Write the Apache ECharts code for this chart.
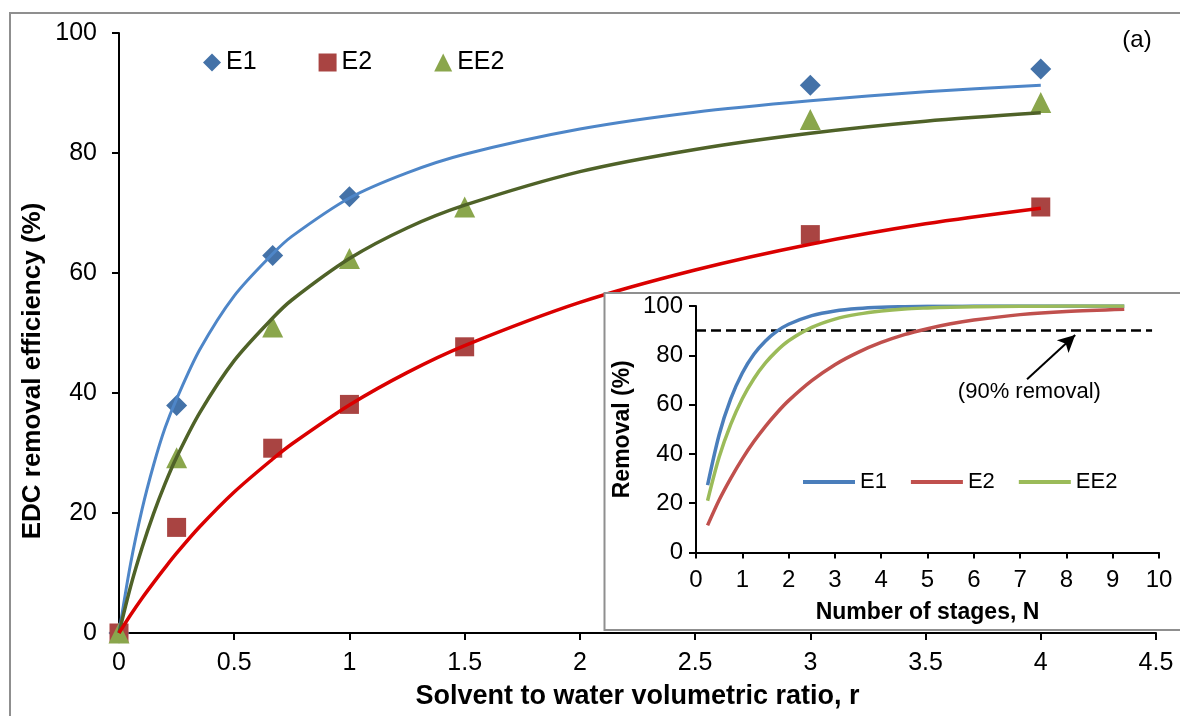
<!DOCTYPE html>
<html>
<head>
<meta charset="utf-8">
<script src="https://cdn.jsdelivr.net/npm/echarts@6/dist/echarts.min.js"></script>
<style>
html, body { margin: 0; padding: 0; background: #fff; }
#chart { width: 1180px; height: 716px; }
</style>
</head>
<body>
<div id="chart"></div>
<script>
// measured points (solvent to water ratio r -> EDC removal %)
var rE1 = [0, 0.25, 0.667, 1, 3, 4];
var e1Data = [0, 37.9, 62.9, 72.7, 91.3, 94.0];
var rE2 = [0, 0.25, 0.667, 1, 1.5, 3, 4];
var e2Data = [0, 17.6, 30.8, 38.1, 47.7, 66.4, 71.0];
var rEE2 = [0, 0.25, 0.667, 1, 1.5, 3, 4];
var ee2Data = [0, 29.2, 51.0, 62.4, 71.0, 85.6, 88.4];

// fitted curves
var rFit = [0, 0.05, 0.1, 0.15, 0.2, 0.25, 0.35, 0.5, 0.667, 0.75, 1, 1.25, 1.5, 2, 2.5, 3, 3.5, 4];
var e1Fit = [0, 11.5, 20.6, 28.0, 34.2, 39.0, 47.2, 56.2, 63.2, 66.1, 72.5, 76.7, 79.8, 84.0, 86.8, 88.7, 90.2, 91.3];
var e2Fit = [0, 3.0, 5.8, 8.4, 10.9, 13.3, 17.7, 23.5, 29.0, 31.5, 38.0, 43.4, 47.9, 55.1, 60.5, 64.8, 68.2, 70.8];
var ee2Fit = [0, 7.7, 14.2, 19.9, 24.9, 29.3, 36.7, 45.4, 52.5, 55.5, 62.4, 67.5, 71.3, 76.9, 80.6, 83.3, 85.3, 86.7];

// inset: removal vs number of stages N
var nStages = [0.25, 0.5, 0.75, 1, 1.25, 1.5, 1.75, 2, 2.5, 3, 3.5, 4, 4.5, 5, 5.5, 6, 7, 8, 9.25];
var e1Stage = [27.3, 47.8, 62.3, 72.8, 80.4, 85.8, 89.8, 92.6, 96.1, 98.0, 99.0, 99.5, 99.7, 99.85, 99.9, 99.95, 99.98, 100, 100];
var e2Stage = [11.0, 21.3, 30.1, 38.0, 45.0, 51.2, 56.7, 61.6, 69.7, 76.2, 81.2, 85.2, 88.4, 90.8, 92.8, 94.3, 96.5, 97.8, 98.7];
var ee2Stage = [21.0, 38.7, 52.0, 62.4, 70.5, 76.9, 81.9, 85.9, 91.3, 94.7, 96.7, 98.0, 98.8, 99.2, 99.5, 99.7, 99.9, 99.95, 100];
var targetLine = [[0, 90], [9.85, 90]];
var arrowLine = [[7.15, 70.3], [8.19, 88.2]];
var noteAt = [7.2, 65.2];

var FONT = '"Liberation Sans", Arial, sans-serif';

function pairs(xs, ys) {
    return xs.map(function (x, i) { return [x, ys[i]]; });
}

function axisCommon(min, max, interval, fontSize, margin) {
    return {
        type: 'value',
        min: min,
        max: max,
        interval: interval,
        axisLine: { show: true, onZero: false, lineStyle: { color: '#000', width: 2 } },
        axisTick: { show: true, inside: false, length: 7, lineStyle: { color: '#000', width: 2 } },
        axisLabel: { color: '#000', fontSize: fontSize, fontFamily: FONT, margin: margin },
        splitLine: { show: false }
    };
}

var chart = echarts.init(document.getElementById('chart'));

var xMain = axisCommon(0, 4.5, 0.5, 25, 18);
xMain.gridIndex = 0;
xMain.name = 'Solvent to water volumetric ratio, r';
xMain.nameLocation = 'middle';
xMain.nameGap = 50;
xMain.nameTextStyle = { color: '#000', fontSize: 27, fontWeight: 'bold', fontFamily: FONT };

var yMain = axisCommon(0, 100, 20, 25, 22);
yMain.gridIndex = 0;

var xInset = axisCommon(0, 10, 1, 24, 16);
xInset.gridIndex = 1;
xInset.z = 10;
xInset.axisTick.length = 6;
xInset.name = 'Number of stages, N';
xInset.nameLocation = 'middle';
xInset.nameGap = 49;
xInset.nameTextStyle = { color: '#000', fontSize: 23, fontWeight: 'bold', fontFamily: FONT };

var yInset = axisCommon(0, 100, 20, 24, 13);
yInset.gridIndex = 1;
yInset.z = 10;
yInset.name = 'Removal (%)';
yInset.nameLocation = 'middle';
yInset.nameGap = 62;
yInset.nameTextStyle = { color: '#000', fontSize: 23, fontWeight: 'bold', fontFamily: FONT };

function fitLine(name, xs, ys, color, width) {
    return {
        name: name, type: 'line', xAxisIndex: 0, yAxisIndex: 0,
        data: pairs(xs, ys), symbol: 'none', smooth: 0.3,
        lineStyle: { color: color, width: width }, silent: true, animation: false
    };
}

function points(name, xs, ys, symbol, size, color) {
    return {
        name: name, type: 'scatter', xAxisIndex: 0, yAxisIndex: 0,
        data: pairs(xs, ys), symbol: symbol, symbolSize: size,
        itemStyle: { color: color, opacity: 1 }, animation: false
    };
}

function stageLine(name, ys, color) {
    return {
        name: name, type: 'line', xAxisIndex: 1, yAxisIndex: 1, z: 10,
        data: pairs(nStages, ys), symbol: 'none', smooth: 0.3,
        itemStyle: { color: color },
        lineStyle: { color: color, width: 3.5 }, silent: true, animation: false
    };
}

var ee2Stages = stageLine('N-EE2', ee2Stage, '#9BBB59');
ee2Stages.markLine = {
    silent: true,
    animation: false,
    symbol: ['none', 'none'],
    label: { show: false },
    data: [
        [
            { coord: targetLine[0], lineStyle: { color: '#000', width: 2.5, type: [10, 5] } },
            { coord: targetLine[1] }
        ],
        [
            { coord: arrowLine[0], symbol: 'none', lineStyle: { color: '#000', width: 2, type: 'solid' } },
            { coord: arrowLine[1], symbol: 'arrow', symbolSize: [13, 17] }
        ]
    ]
};
ee2Stages.markPoint = {
    silent: true,
    animation: false,
    symbol: 'circle',
    symbolSize: 1,
    itemStyle: { color: 'rgba(0,0,0,0)' },
    label: {
        show: true, position: 'inside', formatter: '(90% removal)',
        color: '#000', fontSize: 22, fontFamily: FONT
    },
    data: [{ coord: noteAt }]
};

var option = {
    backgroundColor: '#fff',
    animation: false,
    grid: [
        { left: 119, top: 33, right: 24, bottom: 83, containLabel: false },
        { left: 696, top: 306, width: 463, height: 246.5, containLabel: false, z: 10 }
    ],
    xAxis: [xMain, xInset],
    yAxis: [yMain, yInset],
    legend: [
        {
            data: ['E1', 'E2', 'EE2'],
            left: 198, top: 45,
            itemWidth: 18, itemHeight: 18, itemGap: 62,
            textStyle: { color: '#000', fontSize: 25, fontFamily: FONT },
            selectedMode: false
        },
        {
            data: ['N-E1', 'N-E2', 'N-EE2'],
            formatter: function (name) { return name.slice(2); },
            icon: 'rect',
            left: 798, top: 466, z: 10,
            itemWidth: 52, itemHeight: 4, itemGap: 24,
            textStyle: { color: '#000', fontSize: 22, fontFamily: FONT },
            selectedMode: false
        }
    ],
    graphic: {
        elements: [
            {
                type: 'rect', z: 1, silent: true,
                shape: { x: 10, y: 13, width: 1300, height: 900 },
                style: { fill: 'none', stroke: '#8f8f8f', lineWidth: 2 }
            },
            {
                type: 'rect', z: 5, silent: true,
                shape: { x: 604.5, y: 293, width: 700, height: 337 },
                style: { fill: '#fff', stroke: '#8f8f8f', lineWidth: 2 }
            },
            {
                type: 'text', z: 5, silent: true,
                x: 1137, y: 40,
                style: { text: '(a)', fill: '#000', font: '24px ' + FONT, align: 'center', verticalAlign: 'middle' }
            },
            {
                type: 'text', z: 5, silent: true,
                x: 33, y: 371, rotation: Math.PI / 2,
                style: { text: 'EDC removal efficiency (%)', fill: '#000', font: 'bold 26px ' + FONT, align: 'center', verticalAlign: 'middle' }
            }
        ]
    },
    series: [
        fitLine('E1 fit', rFit, e1Fit, '#4E86C8', 3),
        fitLine('EE2 fit', rFit, ee2Fit, '#4F6228', 3.5),
        fitLine('E2 fit', rFit, e2Fit, '#DA0000', 3.5),
        points('E1', rE1, e1Data, 'diamond', 21, '#4472A8'),
        points('E2', rE2, e2Data, 'rect', 19, '#A94442'),
        points('EE2', rEE2, ee2Data, 'triangle', 21, '#8AA64C'),
        stageLine('N-E1', e1Stage, '#4A7EBB'),
        stageLine('N-E2', e2Stage, '#C0504D'),
        ee2Stages
    ]
};

chart.setOption(option);
</script>
</body>
</html>
